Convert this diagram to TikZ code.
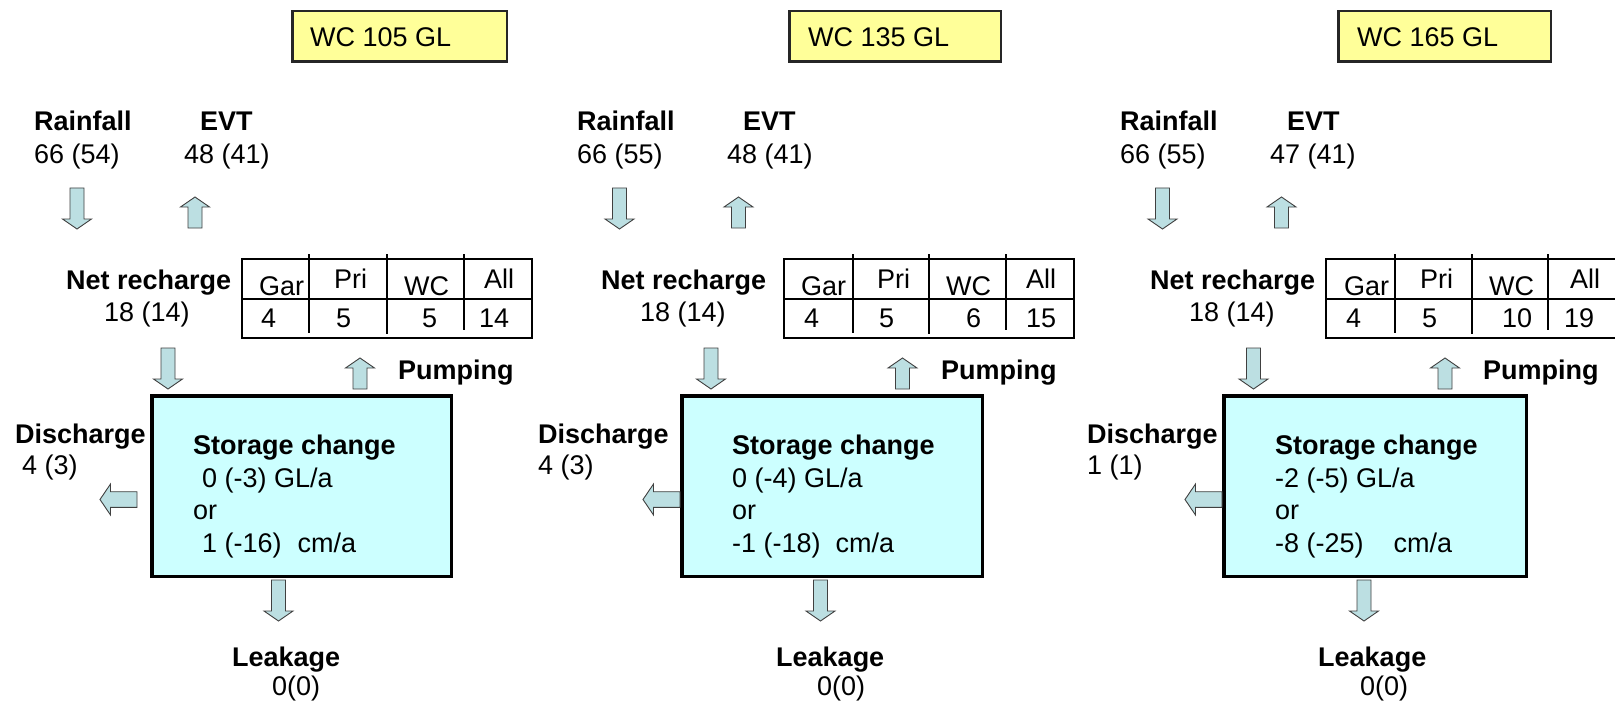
\documentclass[tikz,border=0pt]{standalone}
\usepackage{fontspec}
\setmainfont{Liberation Sans}
\definecolor{flowblue}{RGB}{188,223,226}
\definecolor{storecyan}{RGB}{204,255,255}
\definecolor{wcyellow}{RGB}{255,255,153}
\newcommand{\flowfont}{\fontsize{27}{32}\selectfont}
\newcommand{\cellfont}{\fontsize{27}{32}\selectfont}
\tikzset{
  storebox/.style={fill=storecyan,draw=black,line width=3.5pt},
  scenariobox/.style={fill=wcyellow,draw=black!85,line width=2.5pt},
  tableline/.style={draw=black,line width=2pt},
  flowfill/.style={fill=flowblue,draw=black!75,line width=0.9pt},
  lbl/.style={anchor=base west,inner sep=0pt,font=\flowfont},
  hdr/.style={lbl,font=\flowfont\bfseries},
  cell/.style={lbl,font=\cellfont},
  pics/downflow/.style={code={
    \draw[flowfill] (-7,0)--(7,0)--(7,31)--(14.5,31)--(0,41)--(-14.5,31)--(-7,31)--cycle;}},
  pics/upflow/.style={code={
    \draw[flowfill] (-7,0)--(7,0)--(7,-21)--(14.5,-21)--(0,-31)--(-14.5,-21)--(-7,-21)--cycle;}},
  pics/leftflow/.style={code={
    \draw[flowfill] (0,-7.8)--(0,7.8)--(-26.5,7.8)--(-26.5,15.5)--(-37,0)--(-26.5,-15.5)--(-26.5,-7.8)--cycle;}}
}

\begin{document}
\begin{tikzpicture}[x=1pt,y=-1pt]
  \useasboundingbox (0,0) rectangle (1615,706);
  \path[fill=white] (0,0) rectangle (1615,706);
  % WC 105 GL
  \draw[scenariobox] (292.25,11.25) rectangle (506.75,61.75);
  \node[lbl] (wc1) at (310,47) {WC 105 GL};
  \node[hdr] (rain1) at (34,131) {Rainfall};
  \node[lbl] (rainv1) at (34,164) {66 (54)};
  \node[hdr] (evt1) at (200,131) {EVT};
  \node[lbl] (evtv1) at (184,164) {48 (41)};
  \pic at (77,188) {downflow};
  \pic at (195,228) {upflow};
  \node[hdr] (net1) at (66,289) {Net recharge};
  \node[lbl] (netv1) at (104,321) {18 (14)};
  \draw[tableline] (242,259) rectangle (532,338) (242,299)--(532,299);
  \draw[tableline] (309,254)--(309,333) (387,254)--(387,334) (464,254)--(464,330);
  \node[cell] (gar1) at (259,295) {Gar};
  \node[cell] (pri1) at (334,288) {Pri};
  \node[cell] (wcc1) at (404,295) {WC};
  \node[cell] (all1) at (484,288) {All};
  \node[cell] (garv1) at (261,327) {4};
  \node[cell] (priv1) at (336,327) {5};
  \node[cell] (wcv1) at (422,327) {5};
  \node[cell] (allv1) at (479,327) {14};
  \pic at (168,348) {downflow};
  \pic at (360,389) {upflow};
  \node[hdr] (pump1) at (398,379) {Pumping};
  \draw[storebox] (151.75,395.75) rectangle (451.25,576.25);
  \node[hdr] (dis1) at (15,443) {Discharge};
  \node[lbl] (disv1) at (22,474) {4 (3)};
  \pic at (137,499.5) {leftflow};
  \node[hdr] (store1) at (193,454) {Storage change};
  \node[lbl] (gl1) at (202,487) {0 (-3) GL/a};
  \node[lbl] (or1) at (193,519) {or};
  \node[lbl] (cm1) at (202,552) {1 (-16)\hspace{16pt}cm/a};
  \pic at (278.5,580) {downflow};
  \node[hdr] (leak1) at (232,666) {Leakage};
  \node[lbl] (leakv1) at (272,695) {0(0)};
  % WC 135 GL
  \draw[scenariobox] (789.25,11.25) rectangle (1000.75,61.75);
  \node[lbl] (wc2) at (808,47) {WC 135 GL};
  \node[hdr] (rain2) at (577,131) {Rainfall};
  \node[lbl] (rainv2) at (577,164) {66 (55)};
  \node[hdr] (evt2) at (743,131) {EVT};
  \node[lbl] (evtv2) at (727,164) {48 (41)};
  \pic at (619.5,188) {downflow};
  \pic at (738.5,228) {upflow};
  \node[hdr] (net2) at (601,289) {Net recharge};
  \node[lbl] (netv2) at (640,321) {18 (14)};
  \draw[tableline] (784,259) rectangle (1074,338) (784,299)--(1074,299);
  \draw[tableline] (853,254)--(853,333) (929,254)--(929,334) (1006,254)--(1006,330);
  \node[cell] (gar2) at (801,295) {Gar};
  \node[cell] (pri2) at (877,288) {Pri};
  \node[cell] (wcc2) at (946,295) {WC};
  \node[cell] (all2) at (1026,288) {All};
  \node[cell] (garv2) at (804,327) {4};
  \node[cell] (priv2) at (879,327) {5};
  \node[cell] (wcv2) at (966,327) {6};
  \node[cell] (allv2) at (1026,327) {15};
  \pic at (711,348) {downflow};
  \pic at (902.5,389) {upflow};
  \node[hdr] (pump2) at (941,379) {Pumping};
  \draw[storebox] (681.75,395.75) rectangle (982.25,576.25);
  \node[hdr] (dis2) at (538,443) {Discharge};
  \node[lbl] (disv2) at (538,474) {4 (3)};
  \pic at (680,499.5) {leftflow};
  \node[hdr] (store2) at (732,454) {Storage change};
  \node[lbl] (gl2) at (732,487) {0 (-4) GL/a};
  \node[lbl] (or2) at (732,519) {or};
  \node[lbl] (cm2) at (732,552) {-1 (-18)\hspace{15pt}cm/a};
  \pic at (820.5,580) {downflow};
  \node[hdr] (leak2) at (776,666) {Leakage};
  \node[lbl] (leakv2) at (817,695) {0(0)};
  % WC 165 GL
  \draw[scenariobox] (1338.25,11.25) rectangle (1550.75,61.75);
  \node[lbl] (wc3) at (1357,47) {WC 165 GL};
  \node[hdr] (rain3) at (1120,131) {Rainfall};
  \node[lbl] (rainv3) at (1120,164) {66 (55)};
  \node[hdr] (evt3) at (1287,131) {EVT};
  \node[lbl] (evtv3) at (1270,164) {47 (41)};
  \pic at (1162.5,188) {downflow};
  \pic at (1281.5,228) {upflow};
  \node[hdr] (net3) at (1150,289) {Net recharge};
  \node[lbl] (netv3) at (1189,321) {18 (14)};
  \draw[tableline] (1326,259) rectangle (1616,338) (1326,299)--(1616,299);
  \draw[tableline] (1395,254)--(1395,333) (1472,254)--(1472,334) (1548,254)--(1548,330);
  \node[cell] (gar3) at (1344,295) {Gar};
  \node[cell] (pri3) at (1420,288) {Pri};
  \node[cell] (wcc3) at (1489,295) {WC};
  \node[cell] (all3) at (1570,288) {All};
  \node[cell] (garv3) at (1346,327) {4};
  \node[cell] (priv3) at (1422,327) {5};
  \node[cell] (wcv3) at (1502,327) {10};
  \node[cell] (allv3) at (1564,327) {19};
  \pic at (1253.5,348) {downflow};
  \pic at (1445,389) {upflow};
  \node[hdr] (pump3) at (1483,379) {Pumping};
  \draw[storebox] (1223.75,395.75) rectangle (1526.25,576.25);
  \node[hdr] (dis3) at (1087,443) {Discharge};
  \node[lbl] (disv3) at (1087,474) {1 (1)};
  \pic at (1222,499.5) {leftflow};
  \node[hdr] (store3) at (1275,454) {Storage change};
  \node[lbl] (gl3) at (1275,487) {-2 (-5) GL/a};
  \node[lbl] (or3) at (1275,519) {or};
  \node[lbl] (cm3) at (1275,552) {-8 (-25)\hspace{30pt}cm/a};
  \pic at (1364,580) {downflow};
  \node[hdr] (leak3) at (1318,666) {Leakage};
  \node[lbl] (leakv3) at (1360,695) {0(0)};
\end{tikzpicture}
\end{document}
